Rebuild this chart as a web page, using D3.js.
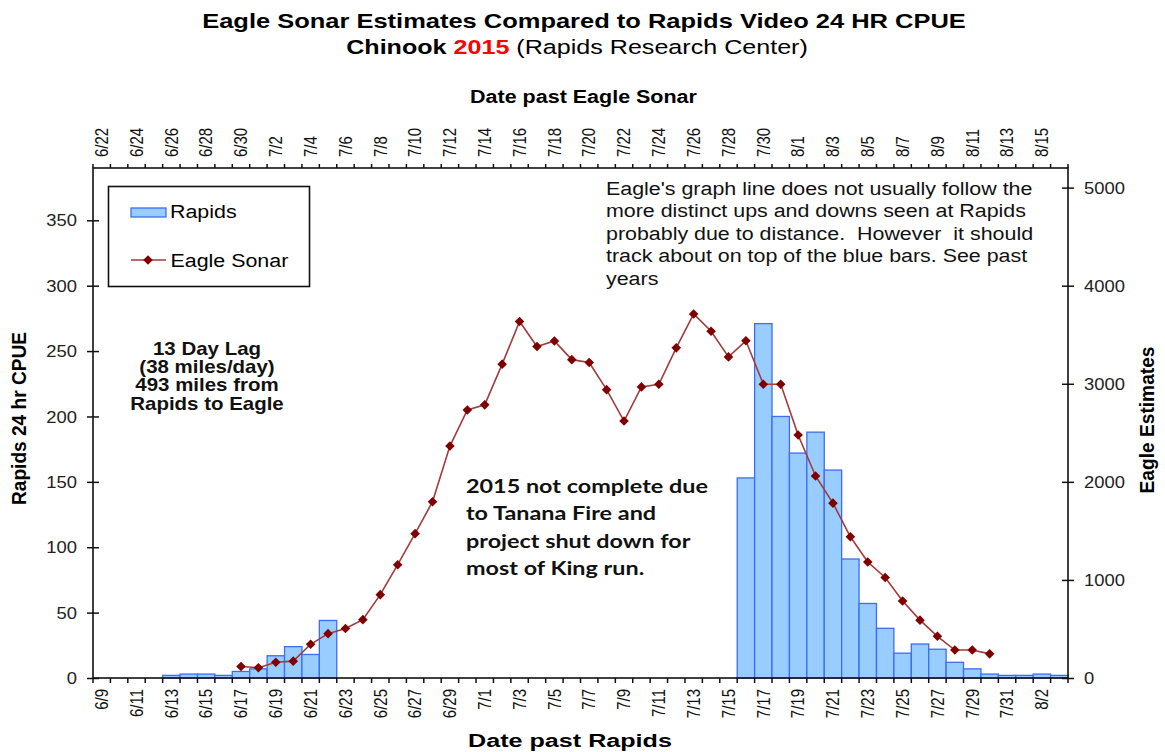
<!DOCTYPE html>
<html>
<head>
<meta charset="utf-8">
<script src="https://cdn.jsdelivr.net/npm/d3@7"></script>
<style>
body{margin:0;background:#fff;}
text{font-family:Arial,'Liberation Sans',sans-serif;}
</style>
</head>
<body>
<div id="chart"></div>
<script>
// dates past Rapids (bottom axis) and the same days 13 days later at Eagle (top axis)
const rapidsDates = ['6/9','6/10','6/11','6/12','6/13','6/14','6/15','6/16','6/17','6/18','6/19','6/20','6/21','6/22',
  '6/23','6/24','6/25','6/26','6/27','6/28','6/29','6/30','7/1','7/2','7/3','7/4','7/5','7/6','7/7','7/8','7/9','7/10',
  '7/11','7/12','7/13','7/14','7/15','7/16','7/17','7/18','7/19','7/20','7/21','7/22','7/23','7/24','7/25','7/26',
  '7/27','7/28','7/29','7/30','7/31','8/1','8/2','8/3'];
const eagleDates = ['6/22','6/23','6/24','6/25','6/26','6/27','6/28','6/29','6/30','7/1','7/2','7/3','7/4','7/5','7/6',
  '7/7','7/8','7/9','7/10','7/11','7/12','7/13','7/14','7/15','7/16','7/17','7/18','7/19','7/20','7/21','7/22','7/23',
  '7/24','7/25','7/26','7/27','7/28','7/29','7/30','7/31','8/1','8/2','8/3','8/4','8/5','8/6','8/7','8/8','8/9','8/10',
  '8/11','8/12','8/13','8/14','8/15','8/16'];

// Rapids 24 hr CPUE (left axis), null = no data
const rapidsCpue = [null,null,null,null,2,3,3,2,5,7,17,24,18,44,
  null,null,null,null,null,null,null,null,null,null,null,null,null,null,null,null,null,null,null,null,null,null,null,
  153,271,200,172,188,159,91,57,38,19,26,22,12,7,3,2,2,3,2];

// Eagle sonar estimates (right axis)
const eagleSonar = [null,null,null,null,null,null,null,null,118,105,161,172,344,452,
  505,595,850,1155,1472,1797,2365,2733,2785,3200,3635,3380,3436,3246,3217,2940,2620,2968,
  2995,3366,3712,3536,3274,3438,2995,2995,2478,2060,1783,1440,1183,1025,785,590,
  425,285,285,246,null,null,null,null];

const leftTicks = [0,50,100,150,200,250,300,350];
const rightTicks = [0,1000,2000,3000,4000,5000];

const noteLines = ["Eagle's graph line does not usually follow the",
  'more distinct ups and downs seen at Rapids',
  'probably due to distance.  However  it should',
  'track about on top of the blue bars. See past',
  'years'];
const lagLines = ['13 Day Lag','(38 miles/day)','493 miles from','Rapids to Eagle'];
const fireLines = ['2015 not complete due','to Tanana Fire and','project shut down for','most of King run.'];

const margin = {top:168,right:97,bottom:74,left:93};
const width = 1165 - margin.left - margin.right;
const height = 752 - margin.top - margin.bottom;

const barFill = '#99ccff';
const barStroke = '#3d6cf5';
const lineColor = '#a23b3b';
const dotColor = '#800000';
const sx = 1.19; // the text in the picture is a bit wide

const x = d3.scaleBand().domain(rapidsDates).range([0,width]);
const xTop = d3.scaleBand().domain(eagleDates).range([0,width]);
const y = d3.scaleLinear().domain([0,390]).range([height,0]);
const y2 = d3.scaleLinear().domain([0,5200]).range([height,0]);

const root = d3.select('#chart')
  .append('svg')
  .attr('width',1165)
  .attr('height',752);
const svg = root.append('g')
  .attr('transform',`translate(${margin.left},${margin.top})`);

// helper: put text at x,y and stretch it sideways
function place(t,px,py,s,rot){
  t.attr('transform',`translate(${px},${py}) scale(${s},1)` + (rot ? ` rotate(${rot})` : ''));
  return t;
}
function fit(t,px,py,w){
  const len = t.node().getComputedTextLength();
  place(t,px,py,w/len);
  return w/len;
}

// bars
const rows = rapidsDates.map((d,i)=>({date:d,cpue:rapidsCpue[i],eagle:eagleSonar[i]}));
svg.selectAll('.bar')
  .data(rows.filter(d=>d.cpue != null))
  .join('rect')
  .attr('class','bar')
  .attr('x',d=>x(d.date))
  .attr('y',d=>y(d.cpue))
  .attr('width',x.bandwidth())
  .attr('height',d=>height - y(d.cpue))
  .attr('fill',barFill)
  .attr('stroke',barStroke)
  .attr('stroke-width',1.3);

// eagle line
const line = d3.line()
  .defined(d=>d.eagle != null)
  .x(d=>x(d.date) + x.bandwidth()/2)
  .y(d=>y2(d.eagle));
svg.append('path')
  .datum(rows)
  .attr('fill','none')
  .attr('stroke',lineColor)
  .attr('stroke-width',1.6)
  .attr('d',line);
const diamond = d3.symbol().type(d3.symbolSquare).size(46);
svg.selectAll('.dot')
  .data(rows.filter(d=>d.eagle != null))
  .join('path')
  .attr('class','dot')
  .attr('d',diamond)
  .attr('fill',dotColor)
  .attr('transform',d=>`translate(${x(d.date) + x.bandwidth()/2},${y2(d.eagle)}) rotate(45)`);

// frame
svg.append('rect')
  .attr('width',width)
  .attr('height',height)
  .attr('fill','none')
  .attr('stroke','#111')
  .attr('stroke-width',1.6);

// bottom axis, labels every 2nd day, ticks between days
const xAxis = svg.append('g')
  .attr('transform',`translate(0,${height})`)
  .call(d3.axisBottom(x).tickSize(0).tickFormat((d,i)=> i%2==0 ? d : ''));
xAxis.select('.domain').remove();
xAxis.selectAll('.tick text')
  .attr('x',0).attr('y',0).attr('dy','0.35em')
  .attr('text-anchor','end')
  .attr('transform',`translate(0,11) scale(${sx},1) rotate(-90)`)
  .style('font-size','15px')
  .attr('fill','#111');
svg.selectAll('.xTick')
  .data(rapidsDates.map(d=>x(d)).concat([width]))
  .join('line')
  .attr('x1',d=>d).attr('x2',d=>d)
  .attr('y1',height).attr('y2',height+5)
  .attr('stroke','#111').attr('stroke-width',1.5);

// top axis
const xAxisTop = svg.append('g')
  .call(d3.axisTop(xTop).tickSize(0).tickFormat((d,i)=> i%2==0 ? d : ''));
xAxisTop.select('.domain').remove();
xAxisTop.selectAll('.tick text')
  .attr('x',0).attr('y',0).attr('dy','0.35em')
  .attr('text-anchor','start')
  .attr('transform',`translate(0,-11) scale(${sx},1) rotate(-90)`)
  .style('font-size','15px')
  .attr('fill','#111');
svg.selectAll('.xTopTick')
  .data(eagleDates.map(d=>xTop(d)).concat([width]))
  .join('line')
  .attr('x1',d=>d).attr('x2',d=>d)
  .attr('y1',0).attr('y2',-4)
  .attr('stroke','#111').attr('stroke-width',1.5);

// left axis
const yAxis = svg.append('g')
  .call(d3.axisLeft(y).tickValues(leftTicks).tickSize(6));
yAxis.select('.domain').remove();
yAxis.selectAll('.tick line').attr('x1',6).attr('stroke','#111').attr('stroke-width',1.5);
yAxis.selectAll('.tick text')
  .attr('x',0).attr('dy','0.35em')
  .attr('transform',`translate(-16,0) scale(1.15,1)`)
  .style('font-size','16px')
  .attr('fill','#222');

// right axis
const yAxisRight = svg.append('g')
  .attr('transform',`translate(${width},0)`)
  .call(d3.axisRight(y2).tickValues(rightTicks).tickSize(6).tickFormat(d3.format('d')));
yAxisRight.select('.domain').remove();
yAxisRight.selectAll('.tick line').attr('x1',-6).attr('stroke','#111').attr('stroke-width',1.5);
yAxisRight.selectAll('.tick text')
  .attr('x',0).attr('dy','0.35em')
  .attr('transform',`translate(16,0) scale(1.15,1)`)
  .style('font-size','16px')
  .attr('fill','#222');

// titles
const title = root.append('text')
  .attr('text-anchor','middle')
  .style('font-size','20.5px')
  .style('font-weight','bold')
  .text('Eagle Sonar Estimates Compared to Rapids Video 24 HR CPUE');
fit(title,584,27.5,764);

const sub = root.append('text')
  .attr('text-anchor','middle')
  .style('font-size','20.5px');
sub.append('tspan').style('font-weight','bold').text('Chinook ');
sub.append('tspan').style('font-weight','bold').attr('fill','#ff0000').text('2015');
sub.append('tspan').text(' (Rapids Research Center)');
fit(sub,577,53.5,462);

const topTitle = root.append('text')
  .attr('text-anchor','middle')
  .style('font-size','18px')
  .style('font-weight','bold')
  .text('Date past Eagle Sonar');
fit(topTitle,583.5,103,227);

const bottomTitle = root.append('text')
  .attr('text-anchor','middle')
  .style('font-size','19px')
  .style('font-weight','bold')
  .text('Date past Rapids');
fit(bottomTitle,570,747,204);

// axis titles
root.append('text')
  .attr('text-anchor','middle')
  .attr('dy','0.35em')
  .style('font-size','18px')
  .style('font-weight','bold')
  .attr('textLength',173)
  .attr('lengthAdjust','spacingAndGlyphs')
  .attr('transform',`translate(19,418.5) scale(1.16,1) rotate(-90)`)
  .text('Rapids 24 hr CPUE');
root.append('text')
  .attr('text-anchor','middle')
  .attr('dy','0.35em')
  .style('font-size','18px')
  .style('font-weight','bold')
  .attr('textLength',147)
  .attr('lengthAdjust','spacingAndGlyphs')
  .attr('transform',`translate(1146.5,420) scale(1.16,1) rotate(-90)`)
  .text('Eagle Estimates');

// legend
const legend = root.append('g');
legend.append('rect')
  .attr('x',108.5).attr('y',186.5)
  .attr('width',201).attr('height',100)
  .attr('fill','#fff')
  .attr('stroke','#111')
  .attr('stroke-width',1.6);
legend.append('rect')
  .attr('x',131).attr('y',208)
  .attr('width',35).attr('height',9)
  .attr('fill',barFill)
  .attr('stroke',barStroke)
  .attr('stroke-width',1.3);
place(legend.append('text').style('font-size','18px').text('Rapids'),170,218,sx);
legend.append('line')
  .attr('x1',131).attr('x2',166)
  .attr('y1',260).attr('y2',260)
  .attr('stroke',lineColor)
  .attr('stroke-width',1.6);
legend.append('path')
  .attr('d',diamond)
  .attr('fill',dotColor)
  .attr('transform','translate(148,260) rotate(45)');
place(legend.append('text').style('font-size','18px').text('Eagle Sonar'),170.5,266.5,sx);

// note top right (keeps the double spaces)
noteLines.forEach((s,i)=>{
  place(root.append('text')
    .style('font-size','18px')
    .style('white-space','pre')
    .attr('fill','#111')
    .text(s),606,194.5 + i*22.5,sx);
});

// lag note
lagLines.forEach((s,i)=>{
  place(root.append('text')
    .attr('text-anchor','middle')
    .style('font-size','17.5px')
    .style('font-weight','bold')
    .attr('fill','#111')
    .text(s),207,354.5 + i*18.4,1.17);
});

// fire note
let k = 1;
fireLines.forEach((s,i)=>{
  const t = root.append('text')
    .style('font-family','Lato, "Open Sans", sans-serif')
    .style('font-size','19px')
    .style('font-weight','bold')
    .attr('fill','#111')
    .text(s);
  if(i == 0){
    k = fit(t,466,493,242);
  } else {
    place(t,466,493 + i*27.3,k);
  }
});
</script>
</body>
</html>
